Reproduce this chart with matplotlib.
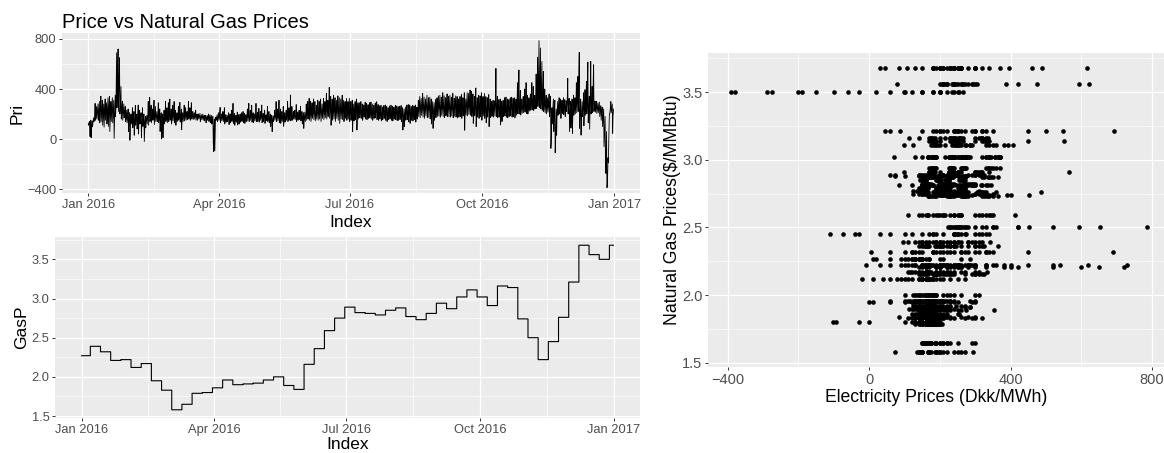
import numpy as np
import pandas as pd
import matplotlib
matplotlib.use('Agg')
import matplotlib.pyplot as plt
import matplotlib.dates as mdates

plt.rcParams['font.family'] = ['Liberation Sans', 'DejaVu Sans']

# electricity price (Dkk/MWh), 6-hourly over 2016, one row per gas week
pri = [
    120, 110, 130, 140, 90, 20, 120, 150, 10, 60, 130, 145, 100, 130, 150, 170, 140, 160, 200, 285, 150, 170, 210, 260,
    160, 200, 230, 280, 150, 190, 250, 300, 130, 210, 260, 342, 140, 190, 240, 310, 110, 170, 220, 280, 95, 180, 250, 320, 150, 200, 240, 290,
    120, 180, 260, 330, 100, 200, 280, 340, 60, 150, 230, 300, 140, 210, 270, 330, 130, 190, 240, 310, 5, 120, 220, 350, 180, 260, 450, 690,
    250, 400, 600, 720, 220, 380, 520, 650, 200, 250, 330, 420, 160, 200, 260, 300, 150, 190, 240, 280, 170, 190, 220, 260, 140, 160, 200, 230,
    130, 160, 190, 240, 60, 150, 175, 210, -10, 100, 160, 200, 120, 155, 180, 250, 90, 150, 170, 220, 30, 130, 165, 270, 110, 150, 170, 200,
    80, 150, 180, 272, 40, 140, 170, 230, 120, 160, 175, 210, 10, 110, 160, 250, 100, 150, 170, 200, -20, 60, 150, 180, 90, 140, 165, 190,
    120, 160, 200, 300, 110, 165, 230, 333, 140, 170, 210, 270, 130, 160, 190, 240, 150, 175, 220, 310, 115, 160, 200, 260, 140, 165, 190, 220,
    140, 165, 200, 290, 130, 160, 180, 240, 60, 150, 170, 210, 0, 100, 160, 200, 10, 120, 165, 230, 120, 155, 175, 300, 140, 165, 185, 250,
    130, 165, 200, 290, 140, 170, 210, 320, 150, 175, 190, 240, 120, 160, 180, 270, 145, 170, 200, 300, 130, 165, 185, 230, 110, 160, 175, 210,
    140, 165, 190, 260, 150, 170, 200, 293, 135, 165, 185, 240, 74, 150, 170, 210, 140, 170, 195, 270, 145, 175, 200, 250, 150, 170, 190, 220,
    155, 175, 210, 300, 160, 175, 200, 250, 150, 170, 220, 290, 160, 175, 190, 220, 155, 170, 185, 210, 160, 175, 190, 230, 150, 170, 185, 200,
    150, 170, 185, 200, 160, 175, 190, 205, 140, 165, 180, 195, 155, 170, 185, 200, 150, 168, 182, 190, 145, 165, 178, 192, 130, 160, 175, 188,
    150, 170, 185, 200, 140, 165, 180, 195, 130, 160, 175, 190, 120, 150, 165, 180, -30, -101, 100, 160, -95, 0, 140, 175, 150, 168, 180, 195,
    140, 165, 180, 210, 150, 170, 190, 253, 130, 160, 175, 200, 145, 165, 180, 220, 140, 160, 185, 250, 120, 155, 170, 195, 135, 160, 175, 190,
    140, 165, 180, 210, 115, 160, 175, 200, 130, 165, 180, 230, 140, 168, 185, 285, 125, 160, 175, 205, 110, 155, 170, 190, 135, 162, 178, 215,
    112, 155, 170, 195, 120, 160, 175, 200, 135, 162, 178, 210, 140, 165, 180, 220, 130, 160, 175, 205, 125, 158, 172, 195, 140, 165, 182, 240,
    145, 168, 185, 285, 140, 165, 180, 230, 150, 170, 190, 270, 135, 162, 178, 210, 130, 160, 175, 200, 145, 168, 185, 285, 140, 165, 180, 215,
    140, 165, 182, 245, 135, 162, 178, 220, 150, 170, 190, 272, 130, 160, 175, 205, 140, 165, 180, 230, 125, 158, 172, 195, 145, 168, 185, 260,
    140, 165, 180, 220, 130, 160, 175, 200, 100, 150, 170, 190, 59, 140, 165, 185, 140, 168, 185, 230, 150, 170, 195, 299, 140, 165, 180, 240,
    145, 168, 190, 310, 130, 165, 180, 240, 125, 160, 178, 220, 140, 165, 185, 260, 102, 155, 175, 210, 135, 162, 180, 230, 150, 170, 190, 300,
    140, 168, 185, 250, 150, 175, 200, 352, 145, 170, 190, 260, 150, 172, 185, 220, 160, 178, 190, 230, 155, 175, 190, 275, 140, 170, 185, 215,
    150, 175, 190, 230, 155, 178, 195, 260, 145, 172, 188, 220, 120, 165, 182, 210, 85, 150, 180, 215, 140, 175, 200, 280, 150, 180, 210, 300,
    160, 190, 230, 325, 150, 185, 220, 300, 140, 180, 215, 290, 165, 200, 240, 320, 155, 190, 225, 300, 145, 180, 210, 270, 160, 195, 235, 310,
    150, 190, 230, 300, 160, 200, 240, 320, 140, 185, 220, 280, 165, 205, 245, 325, 155, 195, 230, 300, 170, 210, 260, 365, 160, 200, 240, 310,
    180, 230, 300, 413, 165, 210, 260, 340, 110, 190, 240, 320, 150, 200, 250, 350, 160, 210, 255, 330, 140, 195, 240, 310, 165, 215, 260, 345,
    150, 205, 250, 330, 125, 190, 240, 320, 160, 210, 255, 350, 155, 205, 245, 310, 140, 200, 240, 300, 165, 215, 250, 325, 150, 205, 240, 300,
    160, 210, 245, 325, 140, 200, 235, 300, 150, 205, 240, 310, 59, 170, 220, 280, 145, 200, 235, 300, 155, 210, 245, 320, 72, 180, 225, 290,
    160, 200, 230, 290, 170, 210, 235, 299, 165, 205, 230, 280, 150, 200, 225, 272, 175, 215, 240, 295, 160, 205, 230, 285, 155, 200, 225, 275,
    165, 205, 232, 290, 170, 210, 235, 295, 160, 200, 228, 280, 150, 195, 225, 270, 165, 208, 232, 288, 170, 212, 236, 298, 155, 200, 226, 276,
    150, 195, 220, 265, 160, 200, 225, 270, 145, 190, 215, 255, 155, 198, 222, 268, 165, 205, 228, 272, 150, 195, 218, 260, 140, 188, 212, 250,
    155, 198, 222, 265, 160, 202, 226, 270, 150, 195, 220, 262, 145, 190, 215, 255, 160, 200, 225, 268, 155, 198, 222, 264, 148, 192, 218, 258,
    150, 195, 220, 262, 155, 198, 224, 268, 140, 185, 210, 250, 72, 150, 200, 240, 100, 175, 210, 255, 150, 195, 222, 272, 155, 200, 226, 275,
    140, 195, 220, 272, 125, 185, 210, 260, 150, 198, 225, 270, 145, 192, 218, 265, 155, 200, 228, 272, 135, 188, 212, 255, 160, 210, 240, 310,
    180, 230, 270, 340, 170, 225, 265, 325, 190, 240, 280, 365, 175, 228, 268, 335, 165, 220, 260, 320, 185, 235, 275, 350, 170, 225, 262, 330,
    175, 228, 265, 335, 160, 220, 258, 320, 120, 200, 245, 300, 85, 180, 235, 290, 150, 215, 255, 315, 170, 225, 262, 330, 180, 232, 268, 345,
    185, 235, 270, 350, 175, 228, 262, 335, 190, 240, 275, 370, 180, 232, 268, 345, 170, 225, 260, 330, 185, 238, 272, 360, 178, 230, 265, 340,
    180, 232, 268, 350, 175, 228, 262, 335, 185, 236, 272, 365, 170, 225, 260, 325, 182, 234, 270, 345, 176, 230, 264, 340, 168, 224, 258, 320,
    175, 230, 265, 340, 180, 235, 270, 355, 165, 225, 260, 330, 185, 240, 275, 370, 70, 190, 250, 320, 190, 245, 285, 370, 185, 240, 280, 365,
    195, 250, 290, 392, 190, 245, 285, 380, 180, 240, 275, 360, 125, 215, 260, 340, 185, 245, 285, 408, 99, 200, 255, 330, 175, 235, 270, 350,
    165, 230, 265, 345, 180, 238, 275, 370, 150, 225, 260, 340, 185, 240, 280, 365, 165, 228, 262, 339, 130, 215, 255, 330, 175, 235, 270, 355,
    99, 200, 240, 320, 170, 225, 250, 300, 180, 230, 255, 310, 175, 228, 252, 305, 185, 235, 300, 565, 180, 232, 260, 340, 170, 225, 250, 315,
    175, 230, 255, 320, 112, 200, 240, 300, 140, 215, 245, 310, 180, 235, 260, 330, 185, 240, 265, 335, 175, 232, 258, 320, 170, 228, 255, 315,
    180, 235, 260, 330, 185, 240, 265, 335, 175, 232, 258, 325, 180, 238, 262, 330, 170, 230, 255, 320, 190, 245, 300, 450, 200, 250, 340, 552,
    200, 240, 280, 390, 192, 235, 260, 320, 205, 242, 268, 340, 210, 248, 290, 400, 215, 255, 320, 451, 205, 245, 275, 350, 200, 240, 265, 330,
    224, 245, 270, 360, 230, 255, 320, 451, 235, 258, 300, 420, 228, 250, 275, 350, 240, 265, 330, 520, 245, 280, 420, 654, 260, 350, 594, 787,
    250, 330, 520, 728, 240, 300, 450, 620, 230, 280, 380, 540, 220, 260, 300, 400, 210, 250, 285, 350, 200, 245, 280, 330, 215, 255, 290, 360,
    180, 240, 275, 340, -75, -30, 150, 250, 120, 210, 260, 320, 60, 180, 250, 310, -110, -40, 100, 240, 30, 170, 245, 300, 190, 240, 270, 330,
    200, 250, 275, 320, 165, 235, 265, 310, 205, 255, 280, 330, 195, 248, 272, 315, 180, 240, 268, 305, 220, 270, 360, 485, 200, 250, 275, 325,
    59, 150, 240, 300, 88, 200, 250, 320, 45, 180, 245, 350, 190, 240, 270, 330, 200, 250, 300, 450, 210, 260, 320, 500, 220, 290, 547, 693,
    85, 180, 240, 320, 31, 150, 230, 300, 180, 230, 260, 370, 106, 200, 250, 395, 190, 240, 300, 460, 200, 260, 488, 615, 130, 210, 250, 340,
    78, 220, 388, 621, 201, 240, 280, 420, 210, 250, 474, 594, 220, 245, 270, 304, 215, 240, 265, 300, 205, 235, 260, 290, 210, 238, 262, 295,
    180, 220, 250, 266, 150, 200, 235, 255, 99, 150, 200, 240, -61, 20, 120, 180, -200, -275, -100, 60, -390, -381, -290, -150, -190, -30, 100, 200,
    200, 230, 260, 300, 210, 235, 255, 280, 45, 180, 220, 240,
]

# weekly natural gas price ($/MMBtu)
gas_levels = [
    2.27, 2.39, 2.32, 2.21, 2.22, 2.12, 2.17, 1.95, 1.83, 1.58, 1.65, 1.79, 1.80, 1.86,
    1.96, 1.90, 1.91, 1.92, 1.96, 2.00, 1.89, 1.84, 2.16, 2.36, 2.59, 2.75, 2.89, 2.82,
    2.81, 2.79, 2.85, 2.88, 2.77, 2.73, 2.81, 2.94, 2.87, 3.02, 3.11, 3.02, 2.91, 3.16,
    3.14, 2.74, 2.50, 2.22, 2.45, 2.76, 3.21, 3.68, 3.56, 3.50, 3.68,
]
gas_start = pd.DatetimeIndex(['2016-01-01']).append(
    pd.date_range('2016-01-07', periods=len(gas_levels) - 1, freq='7D'))

date_ticks = pd.to_datetime(['2016-01-01', '2016-04-01', '2016-07-01', '2016-10-01', '2017-01-01'])

times = pd.date_range('2016-01-01', periods=len(pri), freq='6h')
gas = pd.Series(gas_levels, index=gas_start).reindex(times, method='ffill')

BG = '#EBEBEB'


def gg_style(ax, size):
    ax.set_facecolor(BG)
    for s in ax.spines.values():
        s.set_visible(False)
    ax.grid(which='major', color='white', lw=0.9)
    ax.grid(which='minor', color='white', lw=0.45)
    ax.set_axisbelow(True)
    ax.tick_params(which='major', length=2.5, width=0.7, color='#333333',
                   labelcolor='#4D4D4D', labelsize=size, pad=1.5)
    ax.tick_params(which='minor', length=0)


def date_axis(ax):
    pad = (times[-1] - times[0]) * 0.05
    ax.set_xlim(mdates.date2num(times[0] - pad), mdates.date2num(times[-1] + pad))
    ax.set_xticks(mdates.date2num(date_ticks))
    ax.set_xticklabels([d.strftime('%b %Y') for d in date_ticks])
    mids = date_ticks[:-1] + (date_ticks[1:] - date_ticks[:-1]) / 2
    ax.set_xticks(mdates.date2num(mids), minor=True)


fig = plt.figure(figsize=(11.64, 4.53), dpi=100)
W, H = 1164, 453

# price series
ax1 = fig.add_axes([62 / W, 1 - 193 / H, 578 / W, 160 / H])
ax1.plot(mdates.date2num(times), pri, color='black', lw=0.6)
date_axis(ax1)
ax1.set_ylim(-432, 848)
ax1.set_yticks([-400, 0, 400, 800])
ax1.set_yticks([-200, 200, 600], minor=True)
gg_style(ax1, 9.3)
ax1.set_xlabel('Index', fontsize=12.5, labelpad=3)
ax1.set_ylabel('Pri', fontsize=12.5, labelpad=2)
fig.text(62 / W, 1 - 22 / H, 'Price vs Natural Gas Prices', fontsize=14.5, va='center', ha='left')

# gas series
ax2 = fig.add_axes([55 / W, 1 - 418 / H, 585 / W, 181 / H])
ax2.plot(mdates.date2num(times), gas.values, color='black', lw=0.8, drawstyle='steps-post')
date_axis(ax2)
ax2.set_ylim(1.475, 3.785)
yt = [1.5, 2.0, 2.5, 3.0, 3.5]
ax2.set_yticks(yt)
ax2.set_yticklabels([f'{v:.1f}' for v in yt])
ax2.set_yticks([1.75, 2.25, 2.75, 3.25, 3.75], minor=True)
gg_style(ax2, 9.3)
ax2.set_xlabel('Index', fontsize=12.5, labelpad=1)
ax2.set_ylabel('GasP', fontsize=12.5, labelpad=2)

# price against gas price
ax3 = fig.add_axes([708 / W, 1 - 367 / H, 456 / W, 314 / H])
ax3.scatter(pri, gas.values, s=11, color='black', linewidths=0)
ax3.set_xlim(-456, 834)
ax3.set_ylim(1.47, 3.788)
ax3.set_xticks([-400, 0, 400, 800])
ax3.set_xticks([-200, 200, 600], minor=True)
ax3.set_yticks(yt)
ax3.set_yticklabels([f'{v:.1f}' for v in yt])
ax3.set_yticks([1.75, 2.25, 2.75, 3.25, 3.75], minor=True)
gg_style(ax3, 10.5)
ax3.set_xlabel('Electricity Prices (Dkk/MWh)', fontsize=12.7, labelpad=2)
ax3.set_ylabel('Natural Gas Prices($/MMBtu)', fontsize=12.7, labelpad=1)

fig.savefig('out.png', dpi=100, facecolor='white')
